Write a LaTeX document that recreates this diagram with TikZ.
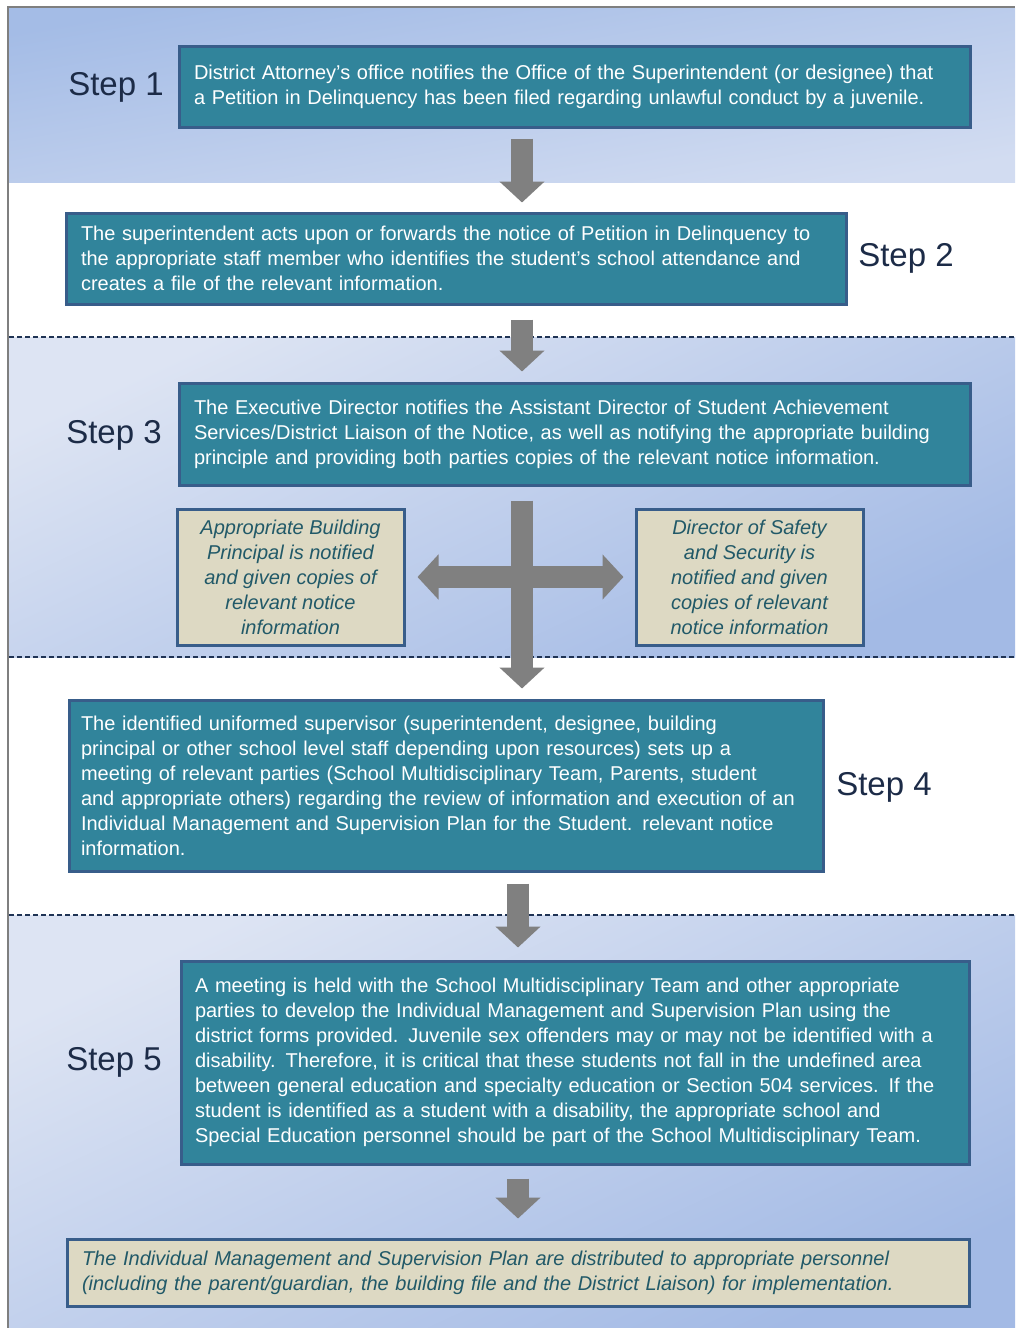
\documentclass[tikz,border=0pt]{standalone}
\usepackage{fontspec}
\setmainfont{Liberation Sans}
\usetikzlibrary{arrows.meta,calc,positioning}
\definecolor{boxteal}{HTML}{31849B}
\definecolor{boxedge}{HTML}{385D8A}
\definecolor{tanfill}{HTML}{DDD9C3}
\definecolor{tantext}{HTML}{215968}
\definecolor{steptext}{HTML}{1C2B47}
\definecolor{arrowgray}{HTML}{808080}
\definecolor{dashnavy}{HTML}{1F3354}
\definecolor{framegray}{HTML}{7F7F7F}
\definecolor{bandtop}{HTML}{A4BCE6}
\definecolor{bandpale}{HTML}{D2DCF1}
\definecolor{bandlight}{HTML}{DDE4F3}
\definecolor{banddark}{HTML}{A3BAE5}

\begin{document}
\begin{tikzpicture}[x=1pt,y=1pt]
\tikzstyle{every node}+=[inner sep=0pt]
\tikzstyle{tealbox}=[draw=boxedge, line width=3pt, fill=boxteal, text=white, inner xsep=15pt, align=left, font=\fontsize{20}{25}\selectfont]
\tikzstyle{tanbox}=[draw=boxedge, line width=3pt, fill=tanfill, text=tantext, align=center, font=\fontsize{20}{25}\selectfont\itshape]
\tikzstyle{steplabel}=[text=steptext, font=\fontsize{33}{36}\selectfont]
\tikzstyle{blockarrow}=[line width=22pt, draw=arrowgray, -{Triangle[length=21pt,width=44pt]}]
\tikzstyle{bandline}=[draw=dashnavy, line width=1.5pt, dash pattern=on 5pt off 3pt]
\useasboundingbox (0,0) rectangle (1015,-1328);
\shade[top color=bandtop, bottom color=bandpale, shading angle=10] (9,-8) rectangle (1015,-182);
\shade[top color=bandlight, bottom color=banddark, shading angle=25] (9,-337) rectangle (1015,-657);
\shade[top color=bandlight, bottom color=banddark, shading angle=25] (9,-915) rectangle (1015,-1328);
\draw[bandline] (9,-337) -- (1015,-337);
\draw[bandline] (9,-657) -- (1015,-657);
\draw[bandline] (9,-915) -- (1015,-915);
\draw[framegray, line width=2pt] (8,-1328) -- (8,-7) -- (1015,-7);
\node[tealbox, text width=761pt, minimum height=81pt] (s1) at (574.5,-86.5) {District Attorney’s office notifies the Office of the Superintendent (or designee) that\\a Petition in Delinquency has been filed regarding unlawful conduct by a juvenile.};
\node[tealbox, text width=750pt, minimum height=91pt] (s2) at (456,-258.5) {The superintendent acts upon or forwards the notice of Petition in Delinquency to\\the appropriate staff member who identifies the student’s school attendance and\\creates a file of the relevant information.};
\node[tealbox, text width=761pt, minimum height=102pt] (s3) at (574.5,-434) {The Executive Director notifies the Assistant Director of Student Achievement\\Services/District Liaison of the Notice, as well as notifying the appropriate building\\principle and providing both parties copies of the relevant notice information.};
\node[tanbox, minimum width=227pt, minimum height=136pt] (principal) at (290.5,-577) {Appropriate Building\\Principal is notified\\and given copies of\\relevant notice\\information};
\node[tanbox, minimum width=227pt, minimum height=136pt] (safety) at (749.5,-577) {Director of Safety\\and Security is\\notified and given\\copies of relevant\\notice information};
\node[tealbox, text width=730pt, inner xsep=12pt, minimum height=171pt] (s4) at (446,-785.5) {The identified uniformed supervisor (superintendent, designee, building\\principal or other school level staff depending upon resources) sets up a\\meeting of relevant parties (School Multidisciplinary Team, Parents, student\\and appropriate others) regarding the review of information and execution of an\\Individual Management and Supervision Plan for the Student. relevant notice\\information.};
\node[tealbox, text width=760pt, inner xsep=14pt, minimum height=203pt] (s5) at (575,-1062.5) {A meeting is held with the School Multidisciplinary Team and other appropriate\\parties to develop the Individual Management and Supervision Plan using the\\district forms provided. Juvenile sex offenders may or may not be identified with a\\disability. Therefore, it is critical that these students not fall in the undefined area\\between general education and specialty education or Section 504 services. If the\\student is identified as a student with a disability, the appropriate school and\\Special Education personnel should be part of the School Multidisciplinary Team.};
\node[tanbox, align=left, inner xsep=15pt, text width=872pt, minimum height=67pt] (plan) at (518,-1272.5) {The Individual Management and Supervision Plan are distributed to appropriate personnel\\(including the parent/guardian, the building file and the District Liaison) for implementation.};
\node[steplabel] (l1) at (116,-87) {Step 1};
\node[steplabel] (l2) at (906,-258) {Step 2};
\node[steplabel] (l3) at (114,-435) {Step 3};
\node[steplabel] (l4) at (884,-787) {Step 4};
\node[steplabel] (l5) at (114,-1062) {Step 5};
\coordinate (c1) at (522,0);
\coordinate (c2) at (518,0);
\draw[blockarrow] ($(s1.south -| c1)+(0,-10)$) -- ($(s2.north -| c1)+(0,9)$);
\draw[blockarrow] ($(s2.south -| c1)+(0,-14)$) -- ($(s3.north -| c1)+(0,10)$);
\draw[blockarrow] ($(s3.south -| c1)+(0,-14)$) -- ($(s4.north -| c1)+(0,10)$);
\draw[blockarrow, {Triangle[length=21pt,width=44pt]}-{Triangle[length=21pt,width=44pt]}] ($(principal.east)+(12,0)$) -- ($(safety.west)+(-11,0)$);
\draw[blockarrow] ($(s4.south -| c2)+(0,-11)$) -- ($(s5.north -| c2)+(0,12)$);
\draw[blockarrow] ($(s5.south -| c2)+(0,-13)$) -- ($(plan.north -| c2)+(0,19)$);
\end{tikzpicture}
\end{document}
